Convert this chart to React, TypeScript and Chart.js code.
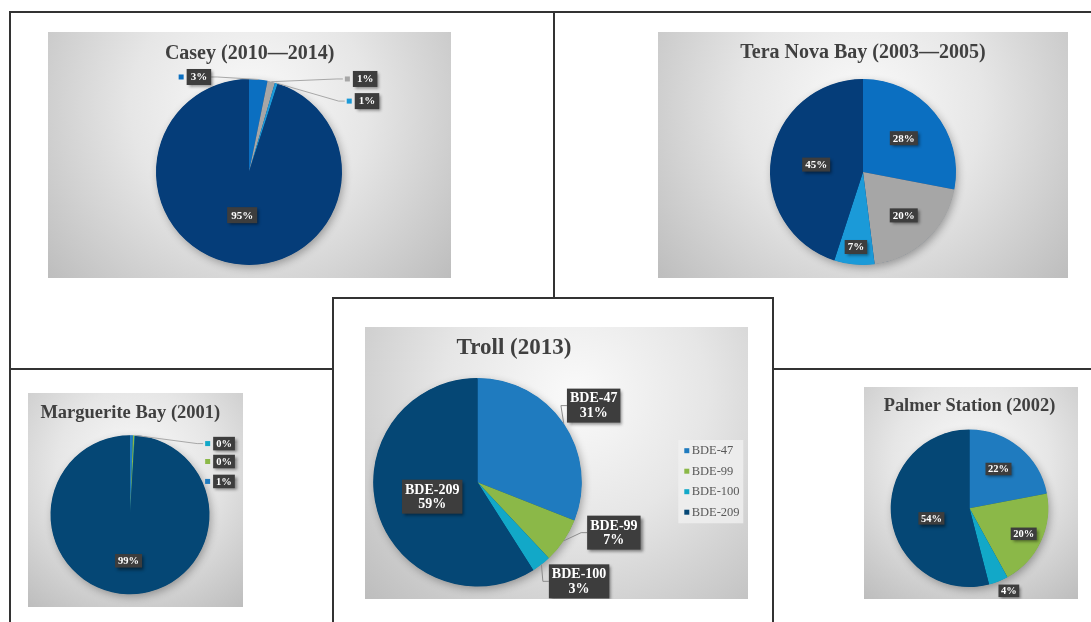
import React, { useEffect, useRef } from 'react';
import { Chart, registerables } from 'chart.js';

Chart.register(...registerables);

// ---------- data ----------
const congeners = ['BDE-47', 'BDE-99', 'BDE-100', 'BDE-209'];
const caseyValues = [3.2, 1.3, 0.5, 95.0];
const teraNovaValues = [28, 20, 7, 45];
const margueriteValues = [0.6, 0.3, 0.1, 99.0];
const trollValues = [31, 7, 3, 59];
const palmerValues = [22, 20, 4, 54];

// ---------- styles ----------
const schemeA = ['#0B6FC1', '#A6A6A6', '#1B9AD8', '#053D79'];
const schemeB = ['#1F7BBF', '#8BB848', '#12A8C8', '#054775'];
const SERIF = '"Liberation Serif", "Times New Roman", serif';

type Spot = { k: number; a?: number; key?: boolean; line?: boolean };

interface PanelSpec {
  title: string;
  values: number[];
  colors: string[];
  rect: { x: number; y: number; w: number; h: number };
  pie: { cx: number; cy: number; r: number };
  titlePos: { x: number; y: number; size: number };
  label: { size: number; padX: number; padY: number; lineH: number; withName: boolean };
  spots: Spot[];
  lineColor: string;
  grad: { fx: number; fy: number };
  legend?: { x: number; y: number; w: number; h: number; keyX: number; row0: number; step: number; textX: number; size: number };
}

const panels: PanelSpec[] = [
  {
    title: 'Casey (2010\u20142014)',
    values: caseyValues,
    colors: schemeA,
    rect: { x: 48, y: 32, w: 403, h: 246 },
    pie: { cx: 201, cy: 140, r: 93 },
    titlePos: { x: 201.6, y: 22.3, size: 20 },
    label: { size: 11, padX: 4, padY: 2.5, lineH: 11, withName: false },
    spots: [
      { a: 332.2, k: 1.155, key: true, line: true },
      { a: 51.3, k: 1.6, key: true, line: true },
      { a: 59, k: 1.48, key: true, line: true },
      { k: 0.47 },
    ],
    lineColor: '#A8A8A8',
    grad: { fx: 0.5, fy: 0.3 },
  },
  {
    title: 'Tera Nova Bay (2003\u20142005)',
    values: teraNovaValues,
    colors: schemeA,
    rect: { x: 658, y: 32, w: 410, h: 246 },
    pie: { cx: 205, cy: 140, r: 93 },
    titlePos: { x: 205, y: 21, size: 20 },
    label: { size: 11, padX: 3, padY: 1.5, lineH: 11, withName: false },
    spots: [{ k: 0.57 }, { k: 0.64 }, { k: 0.81 }, { k: 0.51 }],
    lineColor: '#A8A8A8',
    grad: { fx: 0.5, fy: 0.3 },
  },
  {
    title: 'Marguerite Bay (2001)',
    values: margueriteValues,
    colors: schemeB,
    rect: { x: 28, y: 393, w: 215, h: 214 },
    pie: { cx: 102, cy: 121.7, r: 79.5 },
    titlePos: { x: 102.3, y: 20.3, size: 18.5 },
    label: { size: 10.5, padX: 3, padY: 1.5, lineH: 10.5, withName: false },
    spots: [
      { a: 70.5, k: 1.254, key: true },
      { a: 60.5, k: 1.359, key: true },
      { a: 52.9, k: 1.483, key: true, line: true },
      { k: 0.58 },
    ],
    lineColor: '#A8A8A8',
    grad: { fx: 0.5, fy: 0.35 },
  },
  {
    title: 'Troll (2013)',
    values: trollValues,
    colors: schemeB,
    rect: { x: 365, y: 327, w: 383, h: 272 },
    pie: { cx: 112.5, cy: 155.2, r: 104.3 },
    titlePos: { x: 149, y: 21.3, size: 23 },
    label: { size: 14, padX: 3, padY: 2.5, lineH: 14.5, withName: true },
    spots: [
      { a: 56.6, k: 1.334, line: true },
      { a: 110.3, k: 1.394, line: true },
      { a: 134.3, k: 1.361, line: true },
      { a: 252.3, k: 0.456 },
    ],
    lineColor: '#8C8C8C',
    grad: { fx: 0.55, fy: 0.25 },
    legend: { x: 313.3, y: 113, w: 65, h: 83.3, keyX: 319.3, row0: 123.7, step: 20.5, textX: 326.7, size: 12.5 },
  },
  {
    title: 'Palmer Station (2002)',
    values: palmerValues,
    colors: schemeB,
    rect: { x: 864, y: 387, w: 214, h: 212 },
    pie: { cx: 105.5, cy: 121.3, r: 78.8 },
    titlePos: { x: 105.5, y: 19.7, size: 18.4 },
    label: { size: 10.5, padX: 2.5, padY: 1, lineH: 10.5, withName: false },
    spots: [{ a: 36.4, k: 0.62 }, { k: 0.76 }, { a: 154.5, k: 1.16 }, { a: 255.2, k: 0.5 }],
    lineColor: '#A8A8A8',
    grad: { fx: 0.5, fy: 0.35 },
  },
];

function makePlugin(spec: PanelSpec) {
  return {
    id: 'panelDeco',
    beforeDraw(chart: any) {
      const ctx = chart.ctx as CanvasRenderingContext2D;
      const W = chart.width;
      const H = chart.height;
      const gx = W * spec.grad.fx;
      const gy = H * spec.grad.fy;
      const rr = Math.max(
        Math.hypot(gx, gy),
        Math.hypot(W - gx, gy),
        Math.hypot(gx, H - gy),
        Math.hypot(W - gx, H - gy)
      );
      const g = ctx.createRadialGradient(gx, gy, 0, gx, gy, rr);
      g.addColorStop(0, '#FAFAFA');
      g.addColorStop(0.45, '#E6E6E6');
      g.addColorStop(1, '#BDBDBD');
      ctx.save();
      ctx.fillStyle = g;
      ctx.fillRect(0, 0, W, H);
      ctx.restore();
    },
    beforeDatasetsDraw(chart: any) {
      const ctx = chart.ctx as CanvasRenderingContext2D;
      const arc = chart.getDatasetMeta(0).data[0] as any;
      if (!arc) return;
      const p = arc.getProps(['x', 'y', 'outerRadius'], true);
      ctx.save();
      ctx.shadowColor = 'rgba(0,0,0,0.32)';
      ctx.shadowBlur = 9;
      ctx.shadowOffsetX = 2;
      ctx.shadowOffsetY = 3;
      ctx.fillStyle = spec.colors[spec.colors.length - 1];
      ctx.beginPath();
      ctx.arc(p.x, p.y, p.outerRadius - 0.5, 0, Math.PI * 2);
      ctx.fill();
      ctx.restore();
    },
    afterDatasetsDraw(chart: any) {
      const ctx = chart.ctx as CanvasRenderingContext2D;
      const meta = chart.getDatasetMeta(0);
      const values: number[] = chart.data.datasets[0].data;
      const names: string[] = chart.data.labels;
      const total = values.reduce((s, v) => s + v, 0);
      const L = spec.label;
      ctx.save();
      ctx.font = `bold ${L.size}px ${SERIF}`;
      meta.data.forEach((el: any, i: number) => {
        const spot = spec.spots[i];
        if (!spot) return;
        const p = el.getProps(['x', 'y', 'startAngle', 'endAngle', 'outerRadius'], true);
        const mid = (p.startAngle + p.endAngle) / 2;
        const ang = spot.a !== undefined ? ((spot.a - 90) * Math.PI) / 180 : mid;
        const lx = p.x + Math.cos(ang) * p.outerRadius * spot.k;
        const ly = p.y + Math.sin(ang) * p.outerRadius * spot.k;
        const pct = Math.round((values[i] / total) * 100) + '%';
        const lines = L.withName ? [names[i], pct] : [pct];
        const tw = Math.max(...lines.map((t) => ctx.measureText(t).width));
        const bw = tw + 2 * L.padX;
        const bh = lines.length * L.lineH + 2 * L.padY;
        const bx = lx - bw / 2;
        const by = ly - bh / 2;
        const keySize = 5;
        const keyGap = 3;
        // leader line
        if (spot.line) {
          const ox = p.x + Math.cos(mid) * p.outerRadius;
          const oy = p.y + Math.sin(mid) * p.outerRadius;
          let tx: number;
          let ex: number;
          if (lx < ox) {
            tx = bx + bw;
            ex = tx + 6;
          } else {
            tx = spot.key ? bx - keyGap - keySize - 2 : bx;
            ex = tx - 6;
          }
          ctx.save();
          ctx.strokeStyle = spec.lineColor;
          ctx.lineWidth = 1;
          ctx.beginPath();
          ctx.moveTo(ox, oy);
          ctx.lineTo(ex, ly);
          ctx.lineTo(tx, ly);
          ctx.stroke();
          ctx.restore();
        }
        // key square
        if (spot.key) {
          ctx.fillStyle = spec.colors[i];
          ctx.fillRect(bx - keyGap - keySize, ly - keySize / 2, keySize, keySize);
        }
        // box with shadow
        ctx.save();
        ctx.shadowColor = 'rgba(0,0,0,0.45)';
        ctx.shadowBlur = 3;
        ctx.shadowOffsetX = 2;
        ctx.shadowOffsetY = 2;
        ctx.fillStyle = '#3D3D3D';
        ctx.fillRect(bx, by, bw, bh);
        ctx.restore();
        ctx.fillStyle = '#FFFFFF';
        ctx.textAlign = 'center';
        ctx.textBaseline = 'middle';
        lines.forEach((t, j) => {
          ctx.fillText(t, lx, by + L.padY + L.lineH * (j + 0.5) + 0.5);
        });
      });
      // title
      ctx.fillStyle = '#404040';
      ctx.font = `bold ${spec.titlePos.size}px ${SERIF}`;
      ctx.textAlign = 'center';
      ctx.textBaseline = 'middle';
      ctx.fillText(spec.title, spec.titlePos.x, spec.titlePos.y);
      // legend
      if (spec.legend) {
        const lg = spec.legend;
        ctx.fillStyle = 'rgba(240,240,240,0.8)';
        ctx.fillRect(lg.x, lg.y, lg.w, lg.h);
        ctx.font = `${lg.size}px ${SERIF}`;
        ctx.textAlign = 'left';
        ctx.textBaseline = 'middle';
        names.forEach((n, i) => {
          const yy = lg.row0 + lg.step * i;
          ctx.fillStyle = spec.colors[i];
          ctx.fillRect(lg.keyX, yy - 2.5, 5, 5);
          ctx.fillStyle = '#595959';
          ctx.fillText(n, lg.textX, yy + 0.5);
        });
      }
      ctx.restore();
    },
  };
}

function PiePanel({ spec }: { spec: PanelSpec }) {
  const ref = useRef<HTMLCanvasElement>(null);
  useEffect(() => {
    const canvas = ref.current;
    if (!canvas) return;
    const { w, h } = spec.rect;
    const { cx, cy, r } = spec.pie;
    const chart = new Chart(canvas, {
      type: 'pie',
      data: {
        labels: congeners,
        datasets: [
          {
            data: spec.values,
            backgroundColor: spec.colors,
            borderWidth: 0,
          },
        ],
      },
      options: {
        responsive: false,
        animation: false,
        devicePixelRatio: 1,
        events: [],
        layout: {
          padding: {
            left: cx - r,
            right: w - (cx + r),
            top: cy - r,
            bottom: h - (cy + r),
          },
        },
        plugins: {
          legend: { display: false },
          title: { display: false },
          tooltip: { enabled: false },
        },
      } as any,
      plugins: [makePlugin(spec) as any],
    });
    return () => chart.destroy();
  }, [spec]);
  return (
    <canvas
      ref={ref}
      width={spec.rect.w}
      height={spec.rect.h}
      style={{
        position: 'absolute',
        left: spec.rect.x,
        top: spec.rect.y,
        width: spec.rect.w,
        height: spec.rect.h,
      }}
    />
  );
}

const frameLines = [
  { left: 9, top: 11, width: 1082, height: 2 },
  { left: 9, top: 11, width: 2, height: 611 },
  { left: 553, top: 11, width: 2, height: 287 },
  { left: 332, top: 297, width: 442, height: 2 },
  { left: 332, top: 297, width: 2, height: 325 },
  { left: 772, top: 297, width: 2, height: 325 },
  { left: 9, top: 368, width: 324, height: 2 },
  { left: 772, top: 368, width: 319, height: 2 },
];

export default function App() {
  return (
    <div
      style={{
        position: 'absolute',
        left: 0,
        top: 0,
        width: 1091,
        height: 622,
        background: '#FFFFFF',
        overflow: 'hidden',
      }}
    >
      {panels.map((p, i) => (
        <PiePanel key={i} spec={p} />
      ))}
      {frameLines.map((l, i) => (
        <div
          key={'l' + i}
          style={{ position: 'absolute', background: '#333333', ...l }}
        />
      ))}
    </div>
  );
}
